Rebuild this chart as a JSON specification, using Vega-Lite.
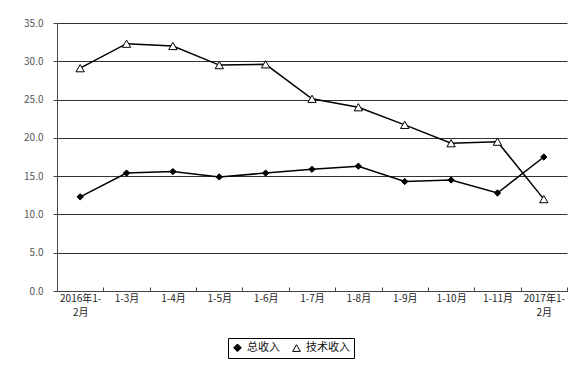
{
  "$schema": "https://vega.github.io/schema/vega-lite/v6.json",
  "autosize": "none",
  "width": 510,
  "height": 268,
  "padding": {"left": 57, "top": 23, "right": 9, "bottom": 74},
  "background": "white",
  "config": {
    "view": {"stroke": null},
    "font": "Noto Sans CJK SC",
    "axis": {"labelFont": "Noto Sans CJK SC", "labelFontSize": 10, "labelColor": "#222", "domainColor": "#444", "tickColor": "#444"},
    "legend": {"symbolStrokeColor": "black", "symbolStrokeWidth": 1, "symbolOpacity": 1}
  },
  "data": {
    "values": [
      {"period": "2016年1-2月", "series": "总收入", "value": 12.3},
      {"period": "1-3月", "series": "总收入", "value": 15.4},
      {"period": "1-4月", "series": "总收入", "value": 15.6},
      {"period": "1-5月", "series": "总收入", "value": 14.9},
      {"period": "1-6月", "series": "总收入", "value": 15.4},
      {"period": "1-7月", "series": "总收入", "value": 15.9},
      {"period": "1-8月", "series": "总收入", "value": 16.3},
      {"period": "1-9月", "series": "总收入", "value": 14.3},
      {"period": "1-10月", "series": "总收入", "value": 14.5},
      {"period": "1-11月", "series": "总收入", "value": 12.8},
      {"period": "2017年1-2月", "series": "总收入", "value": 17.5},
      {"period": "2016年1-2月", "series": "技术收入", "value": 29.1},
      {"period": "1-3月", "series": "技术收入", "value": 32.3},
      {"period": "1-4月", "series": "技术收入", "value": 32.0},
      {"period": "1-5月", "series": "技术收入", "value": 29.5},
      {"period": "1-6月", "series": "技术收入", "value": 29.6},
      {"period": "1-7月", "series": "技术收入", "value": 25.1},
      {"period": "1-8月", "series": "技术收入", "value": 24.0},
      {"period": "1-9月", "series": "技术收入", "value": 21.7},
      {"period": "1-10月", "series": "技术收入", "value": 19.3},
      {"period": "1-11月", "series": "技术收入", "value": 19.5},
      {"period": "2017年1-2月", "series": "技术收入", "value": 12.0}
    ]
  },
  "encoding": {
    "x": {
      "field": "period", "type": "ordinal", "sort": null, "title": null,
      "axis": {
        "labelAngle": 0, "labelPadding": 6, "tickSize": -4, "tickBand": "extent", "labelLineHeight": 14, "labelBaseline": "top",
        "labelExpr": "length(datum.label) > 7 ? [substring(datum.label, 0, 7), substring(datum.label, 7)] : datum.label"
      }
    },
    "y": {
      "field": "value", "type": "quantitative", "title": null,
      "scale": {"domain": [0, 35], "nice": false},
      "axis": {"values": [0, 5, 10, 15, 20, 25, 30, 35], "format": ".1f", "tickSize": 4, "labelPadding": 10, "gridColor": "#333", "gridWidth": 1, "gridOpacity": 1, "labelColor": "#555"}
    }
  },
  "layer": [
    {
      "mark": {"type": "line", "color": "black", "strokeWidth": 1.5},
      "encoding": {"detail": {"field": "series"}}
    },
    {
      "mark": {"type": "point", "strokeWidth": 1, "opacity": 1, "filled": true},
      "encoding": {
        "shape": {
          "field": "series", "type": "nominal",
          "scale": {"domain": ["总收入", "技术收入"], "range": ["diamond", "triangle-up"]},
          "legend": {
            "title": null, "orient": "none", "direction": "horizontal",
            "legendX": 171, "legendY": 315,
            "strokeColor": "black", "padding": 4,
            "labelFont": "Noto Sans CJK SC", "labelFontSize": 11, "labelColor": "#111",
            "symbolSize": 60, "columnPadding": 10, "labelOffset": 4
          }
        },
        "fill": {
          "field": "series", "type": "nominal",
          "scale": {"domain": ["总收入", "技术收入"], "range": ["black", "white"]},
          "legend": {
            "title": null, "orient": "none", "direction": "horizontal",
            "legendX": 171, "legendY": 315,
            "strokeColor": "black", "padding": 4,
            "labelFont": "Noto Sans CJK SC", "labelFontSize": 11, "labelColor": "#111",
            "symbolSize": 60, "columnPadding": 10, "labelOffset": 4
          }
        },
        "stroke": {
          "field": "series", "type": "nominal",
          "scale": {"domain": ["总收入", "技术收入"], "range": ["black", "black"]},
          "legend": {
            "title": null, "orient": "none", "direction": "horizontal",
            "legendX": 171, "legendY": 315,
            "strokeColor": "black", "padding": 4,
            "labelFont": "Noto Sans CJK SC", "labelFontSize": 11, "labelColor": "#111",
            "symbolSize": 60, "columnPadding": 10, "labelOffset": 4
          }
        },
        "size": {"condition": {"test": "datum.series == '总收入'", "value": 40}, "value": 70}
      }
    }
  ]
}
